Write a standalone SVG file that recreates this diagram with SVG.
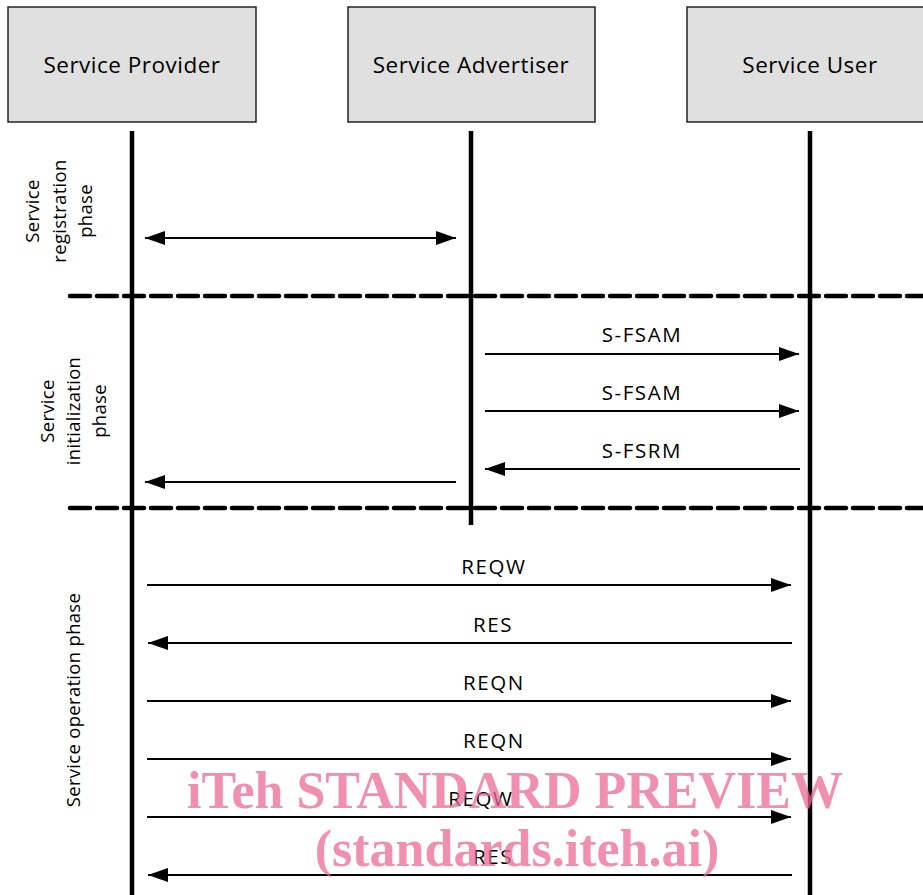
<svg xmlns="http://www.w3.org/2000/svg" width="923" height="895" viewBox="0 0 923 895">
<style>
.box{fill:#e0e0e0;stroke:#222;stroke-width:1.5}
.t{font-family:"Open Sans","DejaVu Sans",sans-serif;fill:#000}
.bt{font-size:22.5px;letter-spacing:0.5px;text-anchor:middle}
.lt{font-size:20.5px;letter-spacing:1.6px;text-anchor:middle}
.pt{font-size:18.5px;letter-spacing:0.3px;text-anchor:middle}
.life{stroke:#000;stroke-width:4.5;fill:none}
.dash{stroke:#000;stroke-width:4.5;stroke-dasharray:20 7;stroke-linecap:round;fill:none}
.msg{stroke:#000;stroke-width:1.8;fill:none}
.wm{font-family:"Liberation Serif",serif;font-weight:bold;font-size:52px;fill:#ec6a95;fill-opacity:0.75;text-anchor:middle}
</style>
<defs>
<marker id="ah" markerWidth="20" markerHeight="14" refX="20" refY="7" orient="auto-start-reverse" markerUnits="userSpaceOnUse" viewBox="0 0 20 14">
<path d="M0,0 L20,7 L0,14 Z" fill="#000"/>
</marker>
</defs>
<g id="provider"><rect class="box" x="8" y="7" width="248" height="115"/><text class="t bt" x="132" y="73">Service Provider</text></g>
<g id="advertiser"><rect class="box" x="348" y="7" width="247" height="115"/><text class="t bt" x="471" y="73">Service Advertiser</text></g>
<g id="user"><rect class="box" x="687" y="7" width="245" height="115"/><text class="t bt" x="810" y="73">Service User</text></g>
<g id="lifelines">
<line class="life" x1="132" y1="131" x2="132" y2="895"/>
<line class="life" x1="471" y1="131" x2="471" y2="525"/>
<line class="life" x1="810" y1="131" x2="810" y2="895"/>
</g>
<g id="phases">
<line class="dash" x1="70" y1="296" x2="923" y2="296"/>
<line class="dash" x1="70" y1="508" x2="923" y2="508"/>
<text class="t pt" transform="translate(60,211) rotate(-90)"><tspan x="0" y="-21">Service</tspan><tspan x="0" y="6">registration</tspan><tspan x="0" y="32">phase</tspan></text>
<text class="t pt" transform="translate(74,411) rotate(-90)"><tspan x="0" y="-20">Service</tspan><tspan x="0" y="6">initialization</tspan><tspan x="0" y="32">phase</tspan></text>
<text class="t pt" transform="translate(74,700) rotate(-90)"><tspan x="0" y="6">Service operation phase</tspan></text>
</g>
<g id="connectors">
<line class="msg" x1="145" y1="238" x2="456" y2="238" marker-start="url(#ah)" marker-end="url(#ah)"/>
<line class="msg" x1="485" y1="354" x2="799" y2="354" marker-end="url(#ah)"/>
<line class="msg" x1="485" y1="411" x2="799" y2="411" marker-end="url(#ah)"/>
<line class="msg" x1="800" y1="469" x2="485" y2="469" marker-end="url(#ah)"/>
<line class="msg" x1="456" y1="482" x2="145" y2="482" marker-end="url(#ah)"/>
<line class="msg" x1="147" y1="585" x2="791" y2="585" marker-end="url(#ah)"/>
<line class="msg" x1="792" y1="643" x2="148" y2="643" marker-end="url(#ah)"/>
<line class="msg" x1="147" y1="701" x2="791" y2="701" marker-end="url(#ah)"/>
<line class="msg" x1="147" y1="759" x2="791" y2="759" marker-end="url(#ah)"/>
<line class="msg" x1="147" y1="817" x2="791" y2="817" marker-end="url(#ah)"/>
<line class="msg" x1="792" y1="875" x2="148" y2="875" marker-end="url(#ah)"/>
<text class="t lt" x="642" y="342">S-FSAM</text>
<text class="t lt" x="642" y="400">S-FSAM</text>
<text class="t lt" x="642" y="458">S-FSRM</text>
<text class="t lt" x="494" y="574">REQW</text>
<text class="t lt" x="493" y="632">RES</text>
<text class="t lt" x="494" y="690">REQN</text>
<text class="t lt" x="494" y="748">REQN</text>
<text class="t lt" x="481" y="806">REQW</text>
<text class="t lt" x="493" y="864">RES</text>
</g>
<g id="watermark">
<text class="wm" x="515" y="808">iTeh STANDARD PREVIEW</text>
<text class="wm" x="517" y="866">(standards.iteh.ai)</text>
</g>
</svg>
